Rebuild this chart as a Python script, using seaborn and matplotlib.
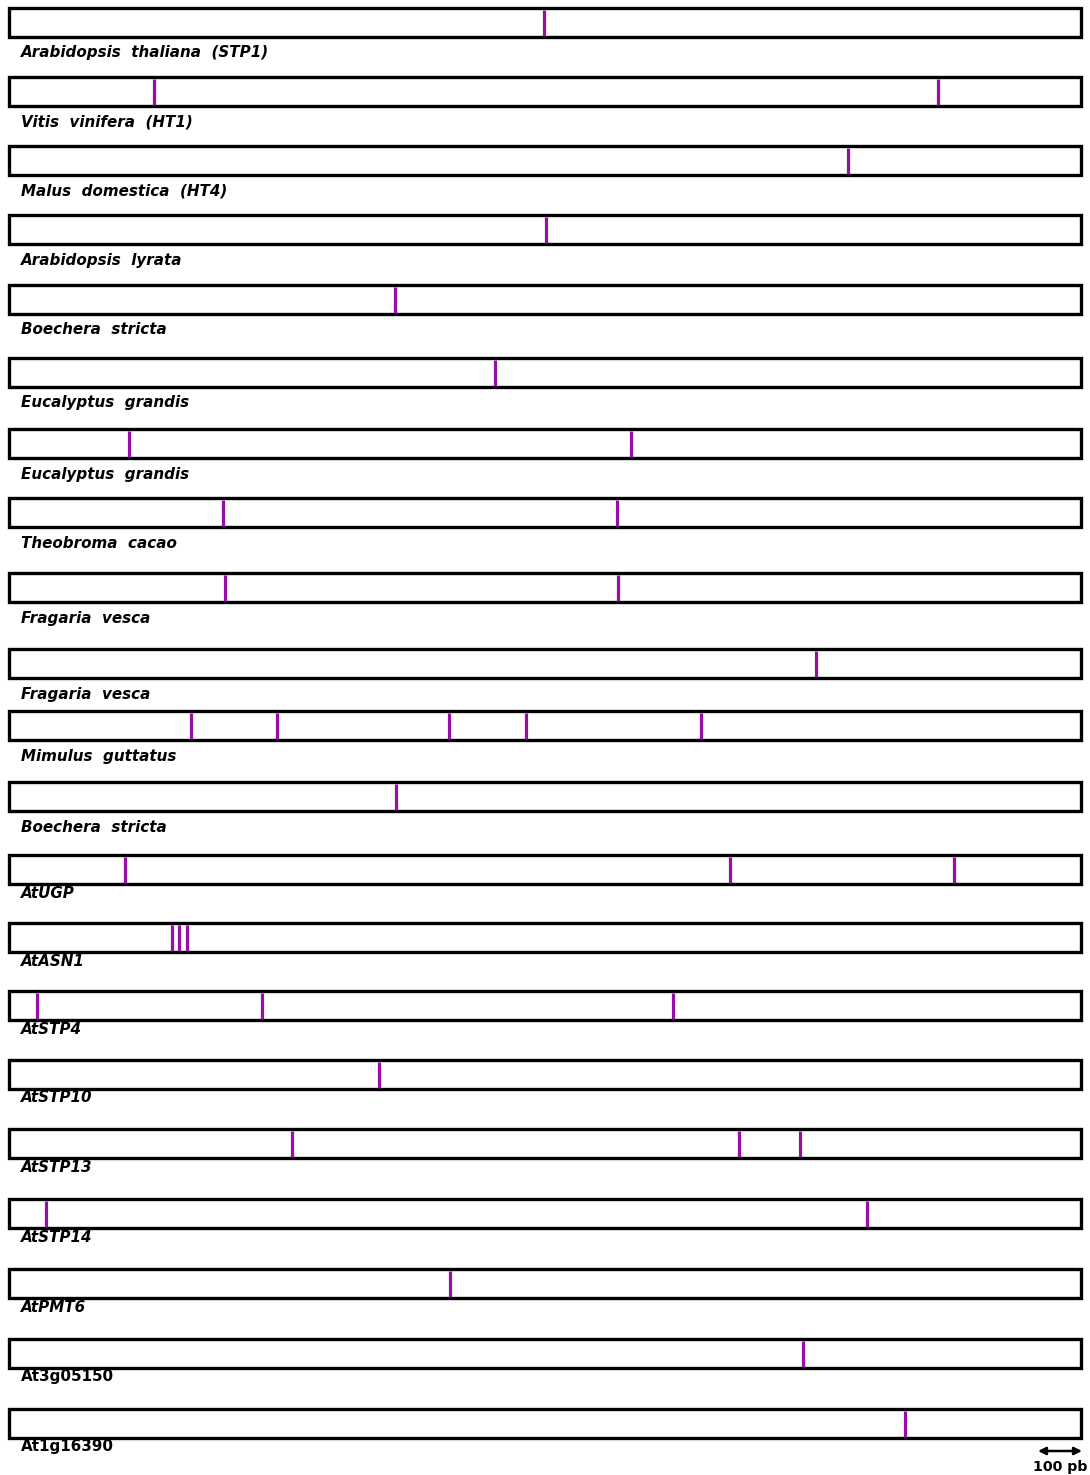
import matplotlib
matplotlib.use('Agg')
import matplotlib.pyplot as plt
import seaborn as sns

# Genes (labels under each bar)
genes = [
    'Arabidopsis  thaliana  (STP1)', 'Vitis  vinifera  (HT1)', 'Malus  domestica  (HT4)',
    'Arabidopsis  lyrata', 'Boechera  stricta', 'Eucalyptus  grandis', 'Eucalyptus  grandis',
    'Theobroma  cacao', 'Fragaria  vesca', 'Fragaria  vesca', 'Mimulus  guttatus',
    'Boechera  stricta', 'AtUGP', 'AtASN1', 'AtSTP4', 'AtSTP10', 'AtSTP13', 'AtSTP14',
    'AtPMT6', 'At3g05150', 'At1g16390',
]
italic = [True] * 19 + [False, False]

# gene length and intron positions (same units, measured from the gene start)
gene_length = 1072
introns = [
    [535],
    [145, 929],
    [839],
    [537],
    [386],
    [486],
    [120, 622],
    [214, 608],
    [216, 609],
    [807],
    [182, 268, 440, 517, 692],
    [387],
    [116, 721, 945],
    [163, 170, 178],
    [28, 253, 664],
    [370],
    [283, 730, 791],
    [37, 858],
    [441],
    [794],
    [896],
]
scale_len = 44          # 100 pb
scale_label = '100 pb'

# layout (figure pixels)
x0 = 9
row_top = [8, 77, 146, 215, 285, 358, 429, 498, 573, 649, 711, 782,
           855, 923, 991, 1060, 1129, 1199, 1269, 1339, 1409]
bar_h = 29
intron_color = '#9a0ea8'

sns.set_style('white')
plt.rcParams['font.family'] = ['DejaVu Sans']
plt.rcParams['text.color'] = 'black'

fig = plt.figure(figsize=(10.9, 14.75), dpi=100)
ax = fig.add_axes([0, 0, 1, 1])
ax.set_xlim(0, 1090)
ax.set_ylim(1475, 0)
ax.axis('off')

for i, name in enumerate(genes):
    top = row_top[i]
    ax.barh(top + bar_h / 2, gene_length, height=bar_h, left=x0,
            color='white', edgecolor='black', linewidth=2.4, zorder=1)
    for p in introns[i]:
        ax.vlines(x0 + p, top + 1.5, top + bar_h - 1.5, color=intron_color,
                  linewidth=2.3, zorder=2)
    off = 9 if name.startswith('At') else 16
    ax.text(21, top + bar_h + off, name, fontsize=10.9, fontweight='bold',
            fontstyle='italic' if italic[i] else 'normal', va='center', ha='left',
            color='black')

# scale bar
sx = 1082 - scale_len
ax.annotate('', xy=(sx, 1451), xytext=(sx + scale_len, 1451),
            arrowprops=dict(arrowstyle='<|-|>', color='black', lw=1.8,
                            mutation_scale=11, shrinkA=0, shrinkB=0))
ax.text(sx + scale_len / 2, 1467, scale_label, fontsize=10.2, fontweight='bold',
        ha='center', va='center', color='black')

fig.savefig('out.png', dpi=100)
plt.close(fig)
